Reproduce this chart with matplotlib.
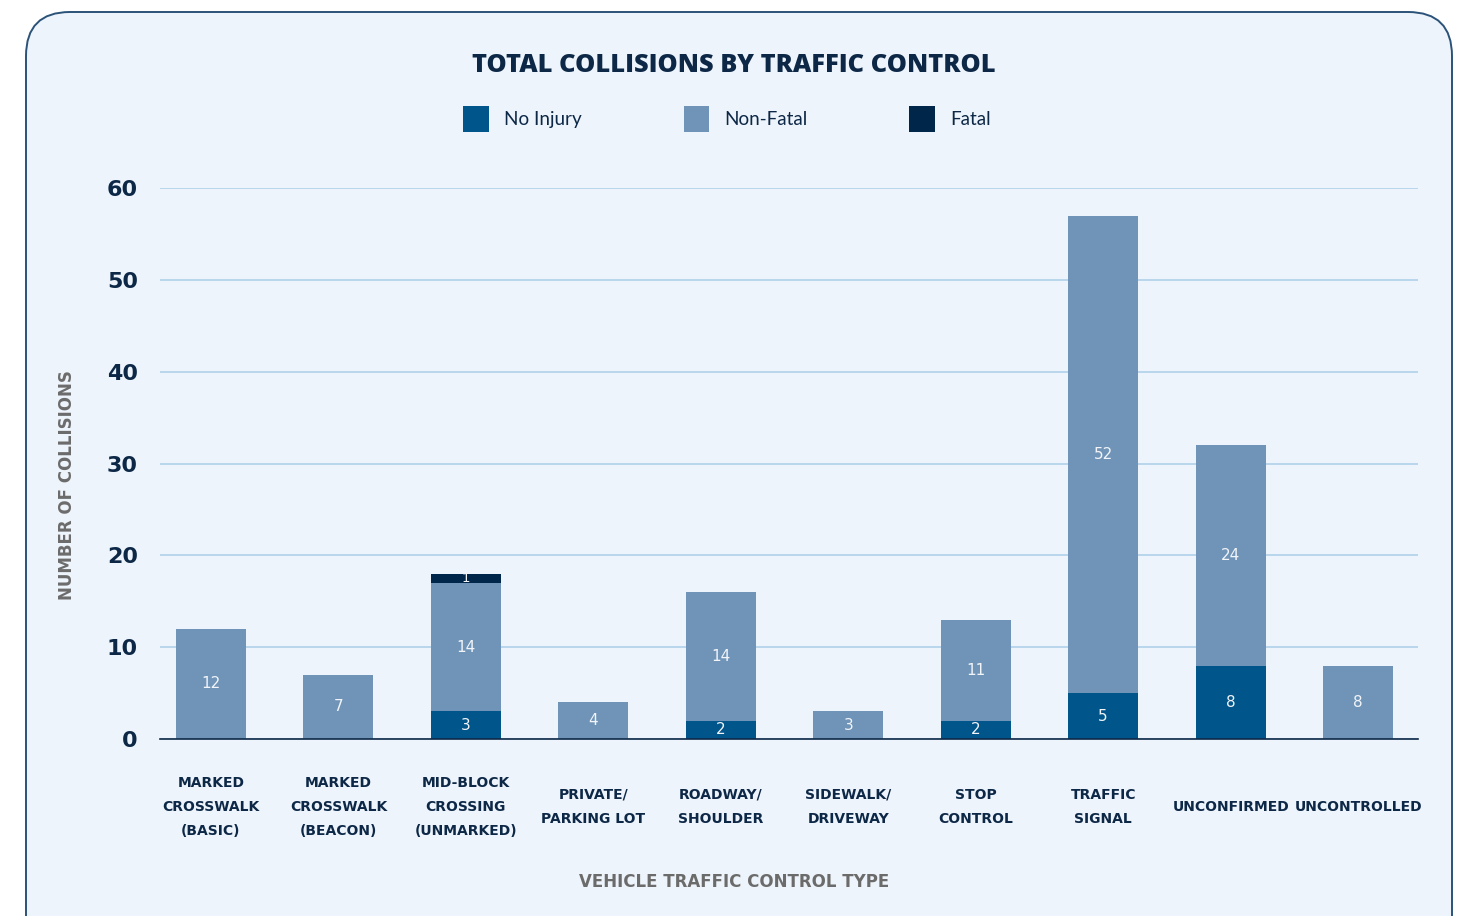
import matplotlib
matplotlib.use("Agg")
import matplotlib.pyplot as plt
import numpy as np
from matplotlib.patches import FancyBboxPatch

categories = [
    "MARKED\nCROSSWALK\n(BASIC)",
    "MARKED\nCROSSWALK\n(BEACON)",
    "MID-BLOCK\nCROSSING\n(UNMARKED)",
    "PRIVATE/\nPARKING LOT",
    "ROADWAY/\nSHOULDER",
    "SIDEWALK/\nDRIVEWAY",
    "STOP\nCONTROL",
    "TRAFFIC\nSIGNAL",
    "UNCONFIRMED",
    "UNCONTROLLED",
]
no_injury = [0, 0, 3, 0, 2, 0, 2, 5, 8, 0]
non_fatal = [12, 7, 14, 4, 14, 3, 11, 52, 24, 8]
fatal = [0, 0, 1, 0, 0, 0, 0, 0, 0, 0]

series = [
    ("No Injury", no_injury, "#00558a"),
    ("Non-Fatal", non_fatal, "#6f94b8"),
    ("Fatal", fatal, "#00264a"),
]

NAVY = "#0d2847"
GREY = "#6b6b6b"
TITLE_FONT = ["Open Sans", "DejaVu Sans"]

fig = plt.figure(figsize=(14.66, 9.16), dpi=100)
fig.patch.set_facecolor("white")

# rounded panel behind everything
panel = FancyBboxPatch(
    (26 / 1466, -0.05), (1452 - 26) / 1466, 1.05 - 12 / 916,
    boxstyle="round,pad=0,rounding_size=0.03",
    transform=fig.transFigure, facecolor="#eef4fb", edgecolor="#2b5278",
    linewidth=1.4, zorder=-10, mutation_aspect=1466 / 916,
)
fig.patches.append(panel)

ax = fig.add_axes([160 / 1466, (916 - 739) / 916, (1418 - 160) / 1466, (739 - 188) / 916])
ax.set_facecolor("none")
ax.set_zorder(2)

x = np.arange(len(categories))
bottom = np.zeros(len(categories))
handles = []
for name, values, color in series:
    values = np.asarray(values, dtype=float)
    bars = ax.bar(x, values, width=0.55, bottom=bottom, color=color, label=name, zorder=3)
    handles.append(bars)
    for xi, b, v in zip(x, bottom, values):
        if v > 0:
            ax.text(xi, b + v / 2, f"{int(v)}", ha="center", va="center",
                    color="#f2f4f8", fontsize=11 if v > 1 else 9.5,
                    family="DejaVu Sans", zorder=4)
    bottom += values

ax.set_xlim(-0.40, 9.47)
ax.set_ylim(0, 60)
ax.set_yticks(np.arange(0, 61, 10))
ax.yaxis.grid(True, color="#a9cdea", linewidth=1.1, zorder=1)
ax.set_axisbelow(True)
for side in ["top", "right", "left"]:
    ax.spines[side].set_visible(False)
ax.spines["bottom"].set_color(NAVY)
ax.spines["bottom"].set_linewidth(1.2)
ax.spines["bottom"].set_zorder(5)
ax.tick_params(axis="y", length=0, pad=16, labelsize=16, labelcolor=NAVY)
for lab in ax.get_yticklabels():
    lab.set_fontweight("bold")
    lab.set_family("DejaVu Sans")
ax.set_xticks([])

for xi, cat in zip(x, categories):
    ax.text(xi, -0.1234, cat, transform=ax.get_xaxis_transform(), ha="center", va="center",
            multialignment="center", linespacing=1.94, fontsize=10, fontweight="bold",
            color=NAVY, family="DejaVu Sans")

fig.text(734 / 1466, 1 - 65 / 916, "TOTAL COLLISIONS BY TRAFFIC CONTROL", ha="center", va="center",
         fontsize=18.3, fontweight="heavy", color=NAVY, family=TITLE_FONT)
fig.text(67 / 1466, 1 - 485 / 916, "NUMBER OF COLLISIONS", rotation=90, ha="center", va="center",
         fontsize=12, fontweight="bold", color=GREY, family="DejaVu Sans")
fig.text(734 / 1466, 1 - 882 / 916, "VEHICLE TRAFFIC CONTROL TYPE", ha="center", va="center",
         fontsize=12, fontweight="bold", color=GREY, family="DejaVu Sans")

leg = fig.legend(handles=handles, loc="center", bbox_to_anchor=(727 / 1466, 1 - 119 / 916), ncol=3,
                 frameon=False, handlelength=1.35, handleheight=1.75, handletextpad=0.8,
                 columnspacing=5.4, prop={"family": "Lato", "size": 13.6})
for t in leg.get_texts():
    t.set_color(NAVY)

fig.savefig("out.png", dpi=100, facecolor=fig.get_facecolor())
